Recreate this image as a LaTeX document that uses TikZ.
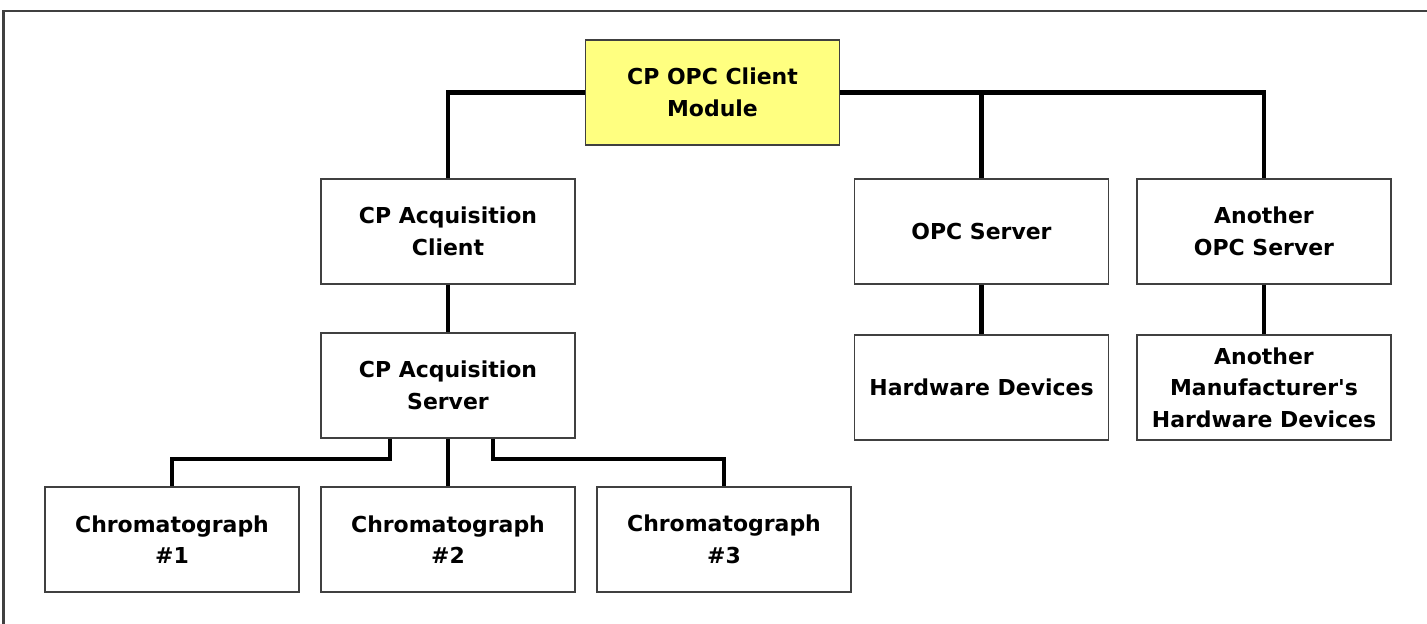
\documentclass[tikz,border=0pt]{standalone}
\usepackage{fontspec}
\setmainfont{DejaVu Sans}
\usepackage{tikz}
\usetikzlibrary{shapes,arrows}
\definecolor{paleyellow}{RGB}{255,255,128}
\tikzstyle{bx} = [rectangle, minimum width=5.08cm, minimum height=2.1cm, inner sep=0pt, text centered, align=center, draw=black!75, line width=0.9pt, font=\fontsize{12.5}{18}\selectfont\bfseries]
\tikzstyle{ln} = [line width=2.3pt, black]

\begin{document}
\begin{tikzpicture}[node distance = 3.08cm]
		\useasboundingbox (-14.25,-10.62) rectangle (14.29,1.85);
		\draw[line width=1.7pt, black!75] (-14.17,-10.62) -- (-14.17,1.63) -- (14.29,1.63);

		\node[bx, fill=paleyellow](module){CP OPC Client\\Module};
		\node[bx, below of=module, xshift=-5.29cm, yshift=0.3cm](acqclient){CP Acquisition\\Client};
		\node[bx, right of=acqclient, xshift=7.59cm](opc){OPC Server};
		\node[bx, right of=opc, xshift=2.57cm](another){Another\\OPC Server};
		\node[bx, below of=acqclient](acqserver){CP Acquisition\\Server};
		\node[bx, below of=opc, yshift=-0.04cm](hw){Hardware Devices};
		\node[bx, below of=another, yshift=-0.04cm](anotherhw){Another\\Manufacturer\textquotesingle s\\Hardware Devices};
		\node[bx, below of=acqserver](chrom2){Chromatograph\\\#2};
		\node[bx, left of=chrom2, xshift=-2.44cm](chrom1){Chromatograph\\\#1};
		\node[bx, right of=chrom2, xshift=2.44cm](chrom3){Chromatograph\\\#3};

		\draw[ln](module.west) -| (acqclient.north);
		\draw[ln](module.east) -| (another.north);
		\draw[ln](module.east) -| (opc.north);
		\draw[ln](acqclient)--(acqserver);
		\draw[ln](opc)--(hw);
		\draw[ln](another)--(anotherhw);
		\draw[ln](acqserver)--(chrom2);
		\draw[ln]([xshift=-1.16cm]acqserver.south) -- ++(0,-0.4) -| (chrom1.north);
		\draw[ln]([xshift=0.9cm]acqserver.south) -- ++(0,-0.4) -| (chrom3.north);
	\end{tikzpicture}
\end{document}
